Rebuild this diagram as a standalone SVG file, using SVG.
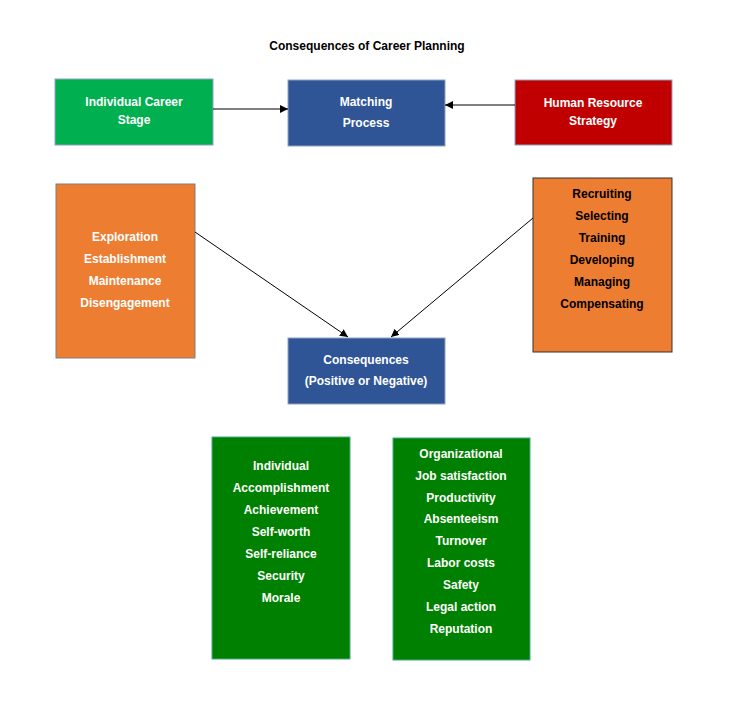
<svg xmlns="http://www.w3.org/2000/svg" width="746" height="723" viewBox="0 0 746 723">
<defs>
<style>
text{font-family:"Liberation Sans",Arial,sans-serif;font-weight:bold;font-size:12px;text-anchor:middle}
.w{fill:#fff}.k{fill:#000}
.b{stroke:#8EA1BF;stroke-width:1}
line{stroke:#000;stroke-width:1}
</style>
<marker id="a" viewBox="0 0 10 10" refX="10" refY="5" markerWidth="8" markerHeight="8" orient="auto" markerUnits="userSpaceOnUse"><path d="M0,0L10,5L0,10z" fill="#000"/></marker>
</defs>
<rect width="746" height="723" fill="#fff"/>
<text x="367" y="50" class="k">Consequences of Career Planning</text>
<g id="individual"><rect x="55" y="79" width="158" height="66" fill="#00B050" class="b"/><text x="134" y="106" class="w">Individual Career</text><text x="134" y="124" class="w">Stage</text></g>
<g id="matching"><rect x="288" y="80" width="157" height="66" fill="#2F5597" class="b"/><text x="366" y="106" class="w">Matching</text><text x="366" y="127" class="w">Process</text></g>
<g id="hrs"><rect x="515" y="80" width="157" height="65" fill="#C00000" class="b"/><text x="593" y="107" class="w">Human Resource</text><text x="593" y="125" class="w">Strategy</text></g>
<g id="stages"><rect x="56" y="184" width="139" height="174" fill="#ED7D31" stroke="#7F7F7F"/>
<text x="125" y="241" class="w">Exploration</text><text x="125" y="263" class="w">Establishment</text><text x="125" y="285" class="w">Maintenance</text><text x="125" y="307" class="w">Disengagement</text></g>
<g id="hrfunctions"><rect x="533" y="178" width="139" height="174" fill="#ED7D31" stroke="#333"/>
<text x="602" y="198" class="k">Recruiting</text><text x="602" y="220" class="k">Selecting</text><text x="602" y="242" class="k">Training</text><text x="602" y="264" class="k">Developing</text><text x="602" y="286" class="k">Managing</text><text x="602" y="308" class="k">Compensating</text></g>
<g id="consequences"><rect x="288" y="338" width="157" height="66" fill="#2F5597" class="b"/><text x="366" y="364" class="w">Consequences</text><text x="366" y="385" class="w">(Positive or Negative)</text></g>
<g id="individualc"><rect x="212" y="437" width="138" height="222" fill="#008000" stroke="#4a8"/>
<text x="281" y="470" class="w">Individual</text><text x="281" y="492" class="w">Accomplishment</text><text x="281" y="514" class="w">Achievement</text><text x="281" y="536" class="w">Self-worth</text><text x="281" y="558" class="w">Self-reliance</text><text x="281" y="580" class="w">Security</text><text x="281" y="602" class="w">Morale</text></g>
<g id="orgc"><rect x="393" y="438" width="137" height="222" fill="#008000" stroke="#4a8"/>
<text x="461" y="458" class="w">Organizational</text><text x="461" y="480" class="w">Job satisfaction</text><text x="461" y="502" class="w">Productivity</text><text x="461" y="523" class="w">Absenteeism</text><text x="461" y="545" class="w">Turnover</text><text x="461" y="567" class="w">Labor costs</text><text x="461" y="589" class="w">Safety</text><text x="461" y="611" class="w">Legal action</text><text x="461" y="633" class="w">Reputation</text></g>
<g id="connectors">
<line x1="213" y1="109" x2="288" y2="109" marker-end="url(#a)"/>
<line x1="515" y1="105" x2="445" y2="105" marker-end="url(#a)"/>
<line x1="195" y1="232" x2="348" y2="337" marker-end="url(#a)"/>
<line x1="533" y1="218" x2="391" y2="337" marker-end="url(#a)"/>
</g>
</svg>
